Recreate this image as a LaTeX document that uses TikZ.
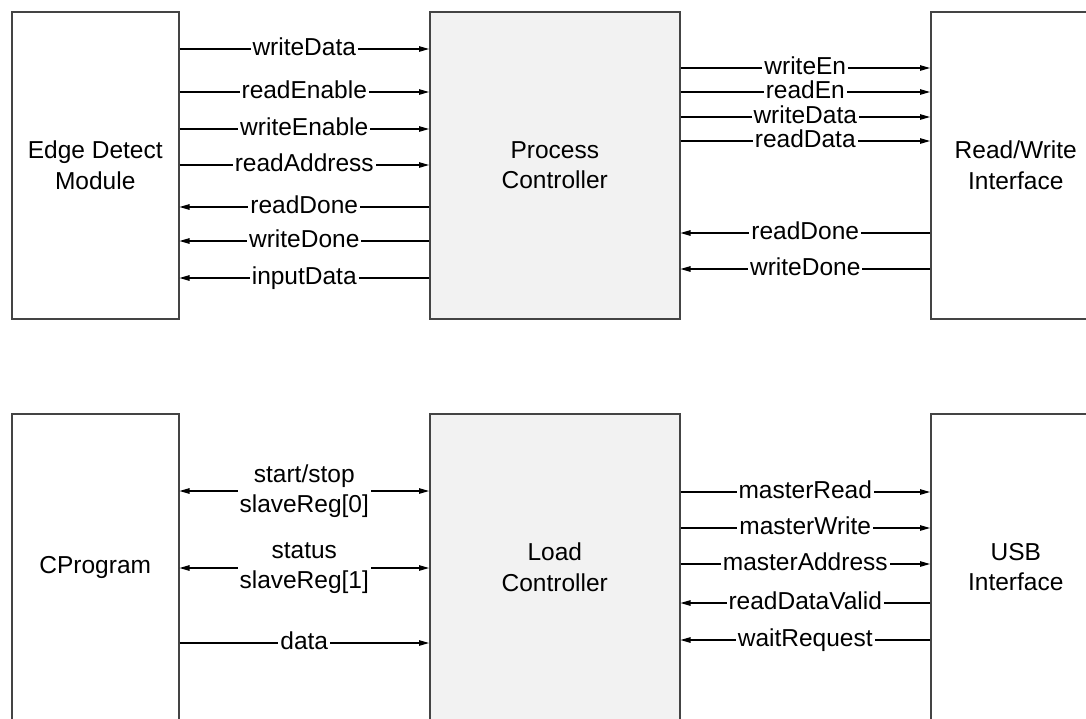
\documentclass[tikz,border=0pt]{standalone}
\usepackage{fontspec}
\setmainfont{Liberation Sans}
\usetikzlibrary{arrows.meta}
\definecolor{boxline}{HTML}{444444}
\definecolor{boxfill}{HTML}{F2F2F2}
\begin{document}
\begin{tikzpicture}[x=1pt,y=-1pt,
  font=\fontsize{24.5}{30.5}\selectfont,
  blk/.style={draw=boxline, line width=1.5pt, anchor=north west, inner sep=0pt,
    align=center, minimum height=307pt},
  side/.style={blk, fill=white, minimum width=167pt},
  ctrl/.style={blk, fill=boxfill, minimum width=250pt},
  sig/.style={line width=1.1pt, -{Triangle[length=10pt,width=5.5pt]}},
  bisig/.style={line width=1.1pt, {Triangle[length=10pt,width=5.5pt]}-{Triangle[length=10pt,width=5.5pt]}},
  lbl/.style={fill=white, inner xsep=2pt, inner ysep=0pt, text height=17.6pt, text depth=5.6pt},
  lbltwo/.style={fill=white, inner xsep=2pt, inner ysep=0pt, align=center}
]
\useasboundingbox (0,0) rectangle (1086,718);
\clip (0,0) rectangle (1086,718);

% top row
\node[side] (ED) at (11,11) {Edge Detect\\Module};
\node[ctrl] (PC) at (429,11) {Process\\Controller};
\node[side, minimum width=170pt] (RW) at (930,11) {Read/Write\\Interface};

% bottom row
\node[side] (CP) at (11,413) {CProgram};
\node[ctrl] (LC) at (429,413) {Load\\Controller};
\node[side, minimum width=170pt] (USB) at (930,413) {USB\\Interface};

% Edge Detect <-> Process Controller
\draw[sig] ([yshift=-38pt]ED.north east) -- node[lbl]{writeData} ([yshift=-38pt]PC.north west);
\draw[sig] ([yshift=-81pt]ED.north east) -- node[lbl]{readEnable} ([yshift=-81pt]PC.north west);
\draw[sig] ([yshift=-118pt]ED.north east) -- node[lbl]{writeEnable} ([yshift=-118pt]PC.north west);
\draw[sig] ([yshift=-154pt]ED.north east) -- node[lbl]{readAddress} ([yshift=-154pt]PC.north west);
\draw[sig] ([yshift=-196pt]PC.north west) -- node[lbl]{readDone} ([yshift=-196pt]ED.north east);
\draw[sig] ([yshift=-230pt]PC.north west) -- node[lbl]{writeDone} ([yshift=-230pt]ED.north east);
\draw[sig] ([yshift=-267pt]PC.north west) -- node[lbl]{inputData} ([yshift=-267pt]ED.north east);

% Process Controller <-> Read/Write Interface
\draw[sig] ([yshift=-57pt]PC.north east) -- node[lbl]{writeEn} ([yshift=-57pt]RW.north west);
\draw[sig] ([yshift=-81pt]PC.north east) -- node[lbl]{readEn} ([yshift=-81pt]RW.north west);
\draw[sig] ([yshift=-106pt]PC.north east) -- node[lbl]{writeData} ([yshift=-106pt]RW.north west);
\draw[sig] ([yshift=-130pt]PC.north east) -- node[lbl]{readData} ([yshift=-130pt]RW.north west);
\draw[sig] ([yshift=-222pt]RW.north west) -- node[lbl]{readDone} ([yshift=-222pt]PC.north east);
\draw[sig] ([yshift=-258pt]RW.north west) -- node[lbl]{writeDone} ([yshift=-258pt]PC.north east);

% CProgram <-> Load Controller
\draw[bisig] ([yshift=-78pt]CP.north east) -- node[lbltwo]{start/stop\\slaveReg[0]} ([yshift=-78pt]LC.north west);
\draw[bisig] ([yshift=-155pt]CP.north east) -- node[lbltwo]{status\\slaveReg[1]} ([yshift=-155pt]LC.north west);
\draw[sig] ([yshift=-230pt]CP.north east) -- node[lbl]{data} ([yshift=-230pt]LC.north west);

% Load Controller <-> USB Interface
\draw[sig] ([yshift=-79pt]LC.north east) -- node[lbl]{masterRead} ([yshift=-79pt]USB.north west);
\draw[sig] ([yshift=-115pt]LC.north east) -- node[lbl]{masterWrite} ([yshift=-115pt]USB.north west);
\draw[sig] ([yshift=-151pt]LC.north east) -- node[lbl]{masterAddress} ([yshift=-151pt]USB.north west);
\draw[sig] ([yshift=-190pt]USB.north west) -- node[lbl]{readDataValid} ([yshift=-190pt]LC.north east);
\draw[sig] ([yshift=-227pt]USB.north west) -- node[lbl]{waitRequest} ([yshift=-227pt]LC.north east);
\end{tikzpicture}
\end{document}
